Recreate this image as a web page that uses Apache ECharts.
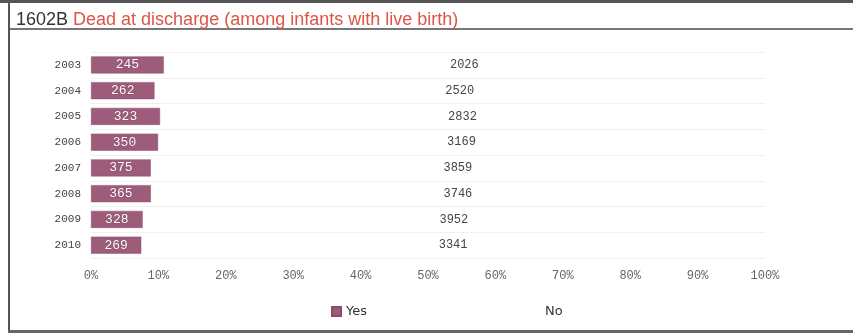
<!DOCTYPE html>
<html>
<head>
<meta charset="utf-8">
<script src="https://cdn.jsdelivr.net/npm/echarts@6/dist/echarts.min.js"></script>
<style>
  html, body { margin: 0; padding: 0; background: #fff; }
  #chart { width: 853px; height: 333px; }
</style>
</head>
<body>
<div id="chart"></div>
<script>
// years, top to bottom
const years = ['2003', '2004', '2005', '2006', '2007', '2008', '2009', '2010']
const yesCounts = [245, 262, 323, 350, 375, 365, 328, 269]
const noCounts = [2026, 2520, 2832, 3169, 3859, 3746, 3952, 3341]
const pctTicks = [0, 10, 20, 30, 40, 50, 60, 70, 80, 90, 100]

// share of each row in percent, the bars are stacked to 100
const totals = yesCounts.map((v, i) => v + noCounts[i])
const yesPct = yesCounts.map((v, i) => ({value: v / totals[i] * 100, count: v}))
const noPct = noCounts.map((v, i) => ({value: v / totals[i] * 100, count: v}))

const chart = echarts.init(document.getElementById('chart'))
const mono = '"Liberation Mono", "DejaVu Sans Mono", monospace'

const option = {
  backgroundColor: '#fff',
  animation: false,
  title: {
    text: '{code|1602B} {name|Dead at discharge (among infants with live birth)}',
    left: 11,
    top: 6,
    textStyle: {
      fontWeight: 'normal',
      rich: {
        code: {fontFamily: 'Liberation Sans', fontSize: 18, fontWeight: 'normal', color: '#333'},
        name: {fontFamily: 'Liberation Sans', fontSize: 18, fontWeight: 'normal', color: '#dc5545'}
      }
    }
  },
  graphic: [
    {type: 'rect', shape: {x: 0, y: 0, width: 853, height: 3}, style: {fill: '#555'}},
    {type: 'rect', shape: {x: 8, y: 0, width: 2, height: 333}, style: {fill: '#555'}},
    {type: 'rect', shape: {x: 10, y: 28, width: 843, height: 2}, style: {fill: '#777'}},
    {type: 'rect', shape: {x: 8, y: 330, width: 845, height: 3}, style: {fill: '#666'}}
  ],
  legend: {
    data: [
      {name: 'Yes', icon: 'rect'},
      {name: 'No', icon: 'rect', itemStyle: {color: '#fff'}}
    ],
    left: 326,
    top: 300,
    itemWidth: 9,
    itemHeight: 9,
    itemGap: 164,
    textStyle: {fontFamily: 'DejaVu Sans', fontSize: 13, color: '#333'}
  },
  grid: {left: 91, right: 88, top: 52, bottom: 75},
  xAxis: {
    type: 'value',
    min: 0,
    max: 100,
    interval: 10,
    axisLine: {show: false},
    axisTick: {show: false},
    splitLine: {show: false},
    axisLabel: {
      margin: 12,
      fontFamily: mono,
      fontSize: 12,
      color: '#666',
      formatter: v => pctTicks.includes(v) ? v + '%' : ''
    }
  },
  yAxis: {
    type: 'category',
    inverse: true,
    data: years,
    axisLine: {show: false},
    axisTick: {show: false},
    splitLine: {show: true, lineStyle: {color: '#f1f1ee', width: 1}},
    axisLabel: {margin: 10, fontFamily: mono, fontSize: 11, color: '#444'}
  },
  series: [
    {
      name: 'Yes',
      type: 'bar',
      stack: 'all',
      barWidth: 17,
      itemStyle: {color: '#9d5c79', borderColor: '#8a4c68', borderWidth: 0.5},
      label: {
        show: true,
        position: 'inside',
        formatter: p => p.data.count,
        fontFamily: mono,
        fontSize: 13,
        color: '#fff',
        textShadowColor: 'rgba(60,30,45,0.6)',
        textShadowBlur: 1
      },
      data: yesPct
    },
    {
      name: 'No',
      type: 'bar',
      stack: 'all',
      barWidth: 17,
      itemStyle: {color: 'rgba(255,255,255,0)'},
      label: {
        show: true,
        position: 'inside',
        formatter: p => p.data.count,
        fontFamily: mono,
        fontSize: 12,
        color: '#444'
      },
      data: noPct
    }
  ]
}

chart.setOption(option)
</script>
</body>
</html>
